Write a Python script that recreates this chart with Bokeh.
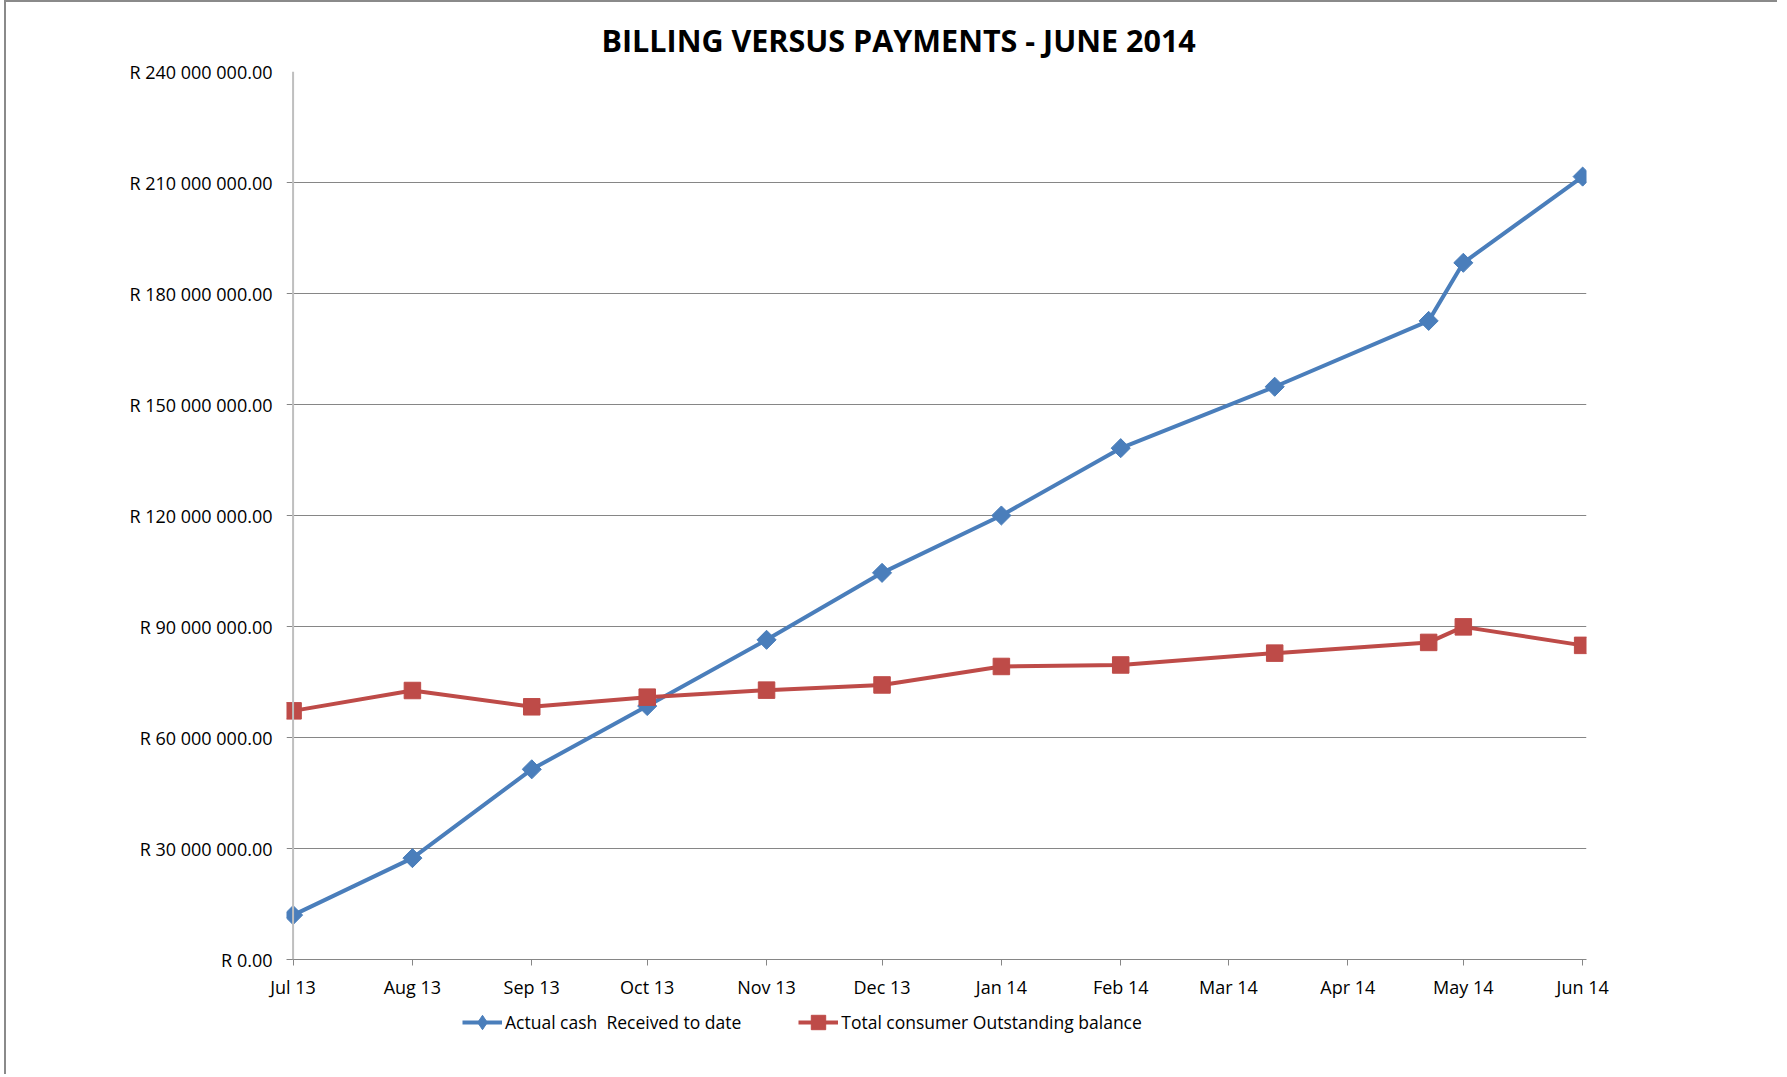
from datetime import datetime
from bokeh.plotting import figure
from bokeh.layouts import column
from bokeh.models import (Range1d, FixedTicker, Grid, Legend, LegendItem, Title, Span)
from bokeh.embed import file_html
from bokeh.resources import INLINE

# ---- data ----
dates = ["2013-07-01", "2013-08-01", "2013-09-01", "2013-10-01", "2013-11-01",
         "2013-12-01", "2014-01-01", "2014-02-01", "2014-03-13", "2014-04-22",
         "2014-05-01", "2014-06-01"]
cash_received = [12.0e6, 27.4e6, 51.4e6, 68.5e6, 86.4e6, 104.5e6, 120.0e6,
                 138.2e6, 154.8e6, 172.6e6, 188.3e6, 211.6e6]
outstanding = [67.2e6, 72.7e6, 68.3e6, 70.9e6, 72.8e6, 74.2e6, 79.2e6,
               79.6e6, 82.8e6, 85.7e6, 89.9e6, 84.9e6]

month_ticks = ["2013-07-01", "2013-08-01", "2013-09-01", "2013-10-01", "2013-11-01",
               "2013-12-01", "2014-01-01", "2014-02-01", "2014-03-01", "2014-04-01",
               "2014-05-01", "2014-06-01"]
month_labels = ["Jul 13", "Aug 13", "Sep 13", "Oct 13", "Nov 13", "Dec 13",
                "Jan 14", "Feb 14", "Mar 14", "Apr 14", "May 14", "Jun 14"]
y_ticks = [0, 30e6, 60e6, 90e6, 120e6, 150e6, 180e6, 210e6, 240e6]
y_labels = ["R 0.00", "R 30 000 000.00", "R 60 000 000.00", "R 90 000 000.00",
            "R 120 000 000.00", "R 150 000 000.00", "R 180 000 000.00",
            "R 210 000 000.00", "R 240 000 000.00"]

title_text = "BILLING VERSUS PAYMENTS - JUNE 2014"
series_names = ["Actual cash  Received to date", "Total consumer Outstanding balance"]

# ---- helpers ----
def to_ms(s):
    return (datetime.strptime(s, "%Y-%m-%d") - datetime(1970, 1, 1)).total_seconds() * 1000.0

xs = [datetime.strptime(d, "%Y-%m-%d") for d in dates]
tick_ms = [to_ms(d) for d in month_ticks]

FONT = "Open Sans"
BLUE = "#4A7EBB"
RED = "#BE4B48"
GRID = "#868686"
W = 1771

p = figure(width=W, height=1002, x_axis_type="datetime",
           output_backend="svg", toolbar_location=None,
           x_range=Range1d(datetime(2013, 6, 29, 7), datetime(2014, 6, 2)),
           y_range=Range1d(0, 240e6),
           min_border_left=280, min_border_right=191,
           min_border_top=69, min_border_bottom=45)

p.outline_line_color = None
p.background_fill_color = "white"
p.border_fill_color = "white"

# title
t = Title(text=title_text, align="left", text_font=FONT,
          text_font_size="30.5px", text_font_style="bold", text_color="#000000",
          offset=315, standoff=22)
p.add_layout(t, "above")

# grid (gridlines poke slightly left of the value axis like Excel tick marks)
p.xgrid.visible = False
p.ygrid.visible = False
grid = Grid(dimension=1, ticker=FixedTicker(ticks=y_ticks[1:-1]),
            grid_line_color=GRID, grid_line_width=1)
p.add_layout(grid)

# value axis
ya = p.yaxis[0]
ya.ticker = FixedTicker(ticks=y_ticks)
ya.major_label_overrides = {t_: l for t_, l in zip(y_ticks, y_labels)}
ya.axis_line_color = None
ya.major_tick_line_color = None
ya.major_tick_out = 0
ya.major_tick_in = 0
ya.minor_tick_line_color = None
ya.major_label_standoff = 14
ya.major_label_text_font = FONT
ya.major_label_text_font_size = "18px"
ya.major_label_text_color = "#000000"

vline = Span(location=tick_ms[0], dimension="height",
             line_color="#BFBFBF", line_width=2)
p.add_layout(vline)

# date axis
xa = p.xaxis[0]
xa.ticker = FixedTicker(ticks=tick_ms)
xa.major_label_overrides = {t_: l for t_, l in zip(tick_ms, month_labels)}
xa.axis_line_color = GRID
xa.major_tick_line_color = GRID
xa.major_tick_out = 6
xa.major_tick_in = 0
xa.minor_tick_line_color = None
xa.major_label_standoff = 9
xa.major_label_text_font = FONT
xa.major_label_text_font_size = "18px"
xa.major_label_text_color = "#000000"

# series
p.line(xs, cash_received, line_color=BLUE, line_width=4)
p.scatter(xs, cash_received, marker="square", angle=0.785398, size=13.5,
          fill_color=BLUE, line_color=BLUE)
p.line(xs, outstanding, line_color=RED, line_width=4)
p.scatter(xs, outstanding, marker="square", size=16.5,
          fill_color=RED, line_color=RED)

# legend strip below the chart (same series, drawn out of view; only the legend shows)
lf = figure(width=W, height=70, output_backend="svg", toolbar_location=None,
            x_range=Range1d(0, 1), y_range=Range1d(0, 1),
            x_axis_location=None, y_axis_location=None,
            min_border=0)
lf.outline_line_color = None
lf.xgrid.visible = False
lf.ygrid.visible = False
xs_ms = [to_ms(d) for d in dates]
lb = lf.line(xs_ms, cash_received, line_color=BLUE, line_width=4)
mb = lf.scatter(xs_ms, cash_received, marker="diamond", size=19,
                fill_color=BLUE, line_color=BLUE)
lr = lf.line(xs_ms, outstanding, line_color=RED, line_width=4)
mr = lf.scatter(xs_ms, outstanding, marker="square", size=15,
                fill_color=RED, line_color=RED)

legend = Legend(items=[LegendItem(label=series_names[0], renderers=[lb, mb]),
                       LegendItem(label=series_names[1], renderers=[lr, mr])],
                orientation="horizontal", location=(176, 34),
                glyph_width=40, glyph_height=36, label_height=36,
                label_standoff=3, spacing=57,
                padding=0, margin=0, border_line_color=None,
                background_fill_alpha=0,
                label_text_font=FONT, label_text_font_size="17.5px",
                label_text_color="#000000")
lf.add_layout(legend, "center")

layout = column(p, lf, spacing=0,
                styles={"border-left": "2px solid #8a8a8a",
                        "border-top": "2px solid #8a8a8a",
                        "margin-left": "4px"})

open("out.html", "w").write(file_html(layout, INLINE))
